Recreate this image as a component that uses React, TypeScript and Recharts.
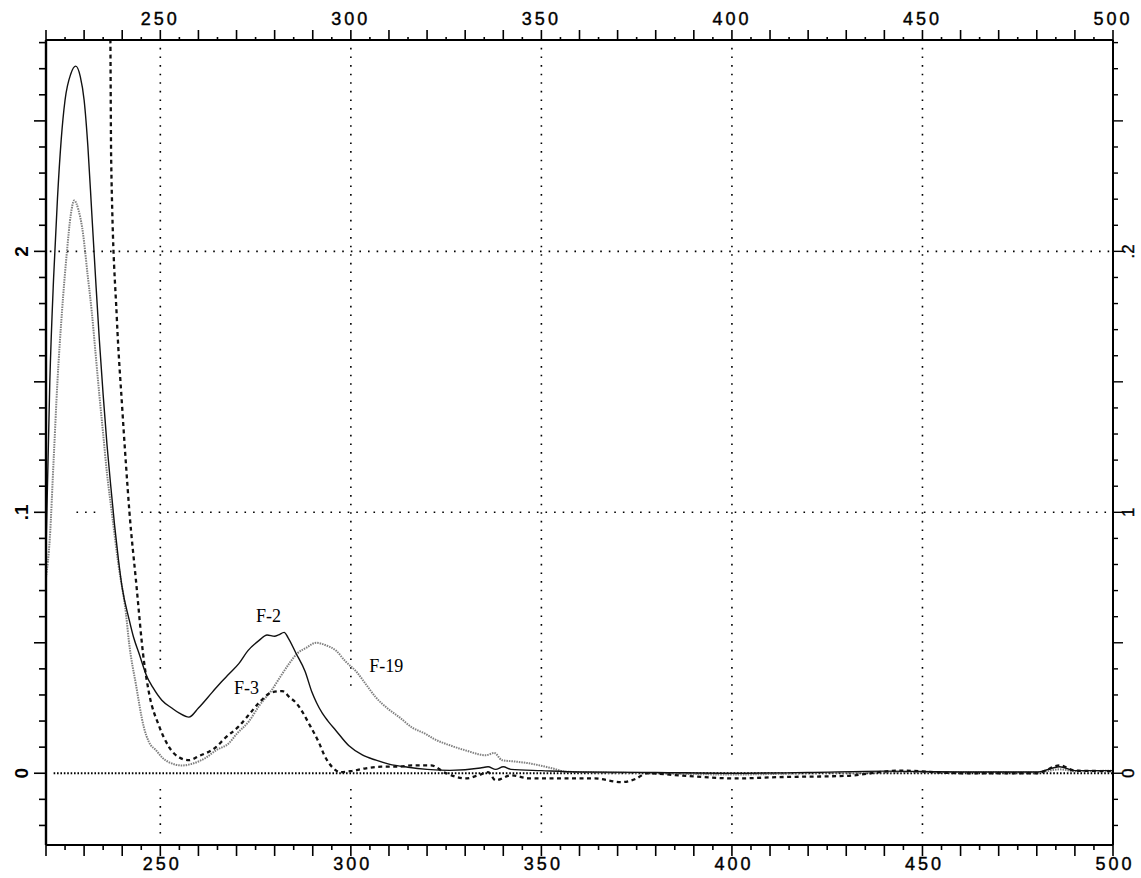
import { LineChart, Line, XAxis, YAxis, ReferenceLine, ReferenceDot } from 'recharts';

// wavelength (nm) / absorbance pairs
const f2Points: [number, number][] = [
  [220, 0.085], [221, 0.15], [222, 0.19], [223, 0.22], [224, 0.243], [225, 0.258],
  [226.5, 0.268], [227.8, 0.271], [229, 0.267], [230, 0.258], [231, 0.24], [232, 0.215],
  [233, 0.19], [234, 0.166], [235, 0.145], [236, 0.126], [237, 0.11], [238, 0.095],
  [239, 0.082], [240, 0.071], [241.8, 0.059], [243, 0.052], [244.4, 0.046], [246.5, 0.037],
  [248, 0.033], [250.4, 0.028], [253, 0.025], [255, 0.023], [257.5, 0.0215], [260, 0.025],
  [263.6, 0.031], [266, 0.035], [268, 0.038], [270.6, 0.042], [273, 0.047], [276, 0.051],
  [278, 0.053], [280, 0.0525], [281, 0.053], [282.5, 0.054], [283.5, 0.052], [285.6, 0.046],
  [288, 0.039], [289.8, 0.031], [291, 0.027], [292.5, 0.023], [294, 0.02], [296, 0.0165],
  [299.5, 0.0105], [303, 0.007], [306.6, 0.005], [310, 0.0035], [315, 0.0023], [320, 0.0015],
  [326, 0.0011], [334, 0.002], [336, 0.0025], [338, 0.0015], [340, 0.0025], [342, 0.0015],
  [350, 0.001], [360, 0.0005], [380, 0.0003], [400, 0], [420, 0.0003], [440, 0.0008],
  [460, 0.0005], [480, 0.0005], [486, 0.0025], [490, 0.001], [500, 0.001],
];

const f3Points: [number, number][] = [
  [236.6, 0.33], [236.9, 0.281], [237.1, 0.235], [238.6, 0.174], [240, 0.14], [241, 0.118],
  [241.9, 0.1], [243.6, 0.074], [245.7, 0.043], [247, 0.031], [249.7, 0.018], [252.3, 0.01],
  [255, 0.006], [257.5, 0.005], [260, 0.0065], [264.6, 0.01], [267, 0.0135], [270.6, 0.018],
  [273, 0.022], [275.9, 0.027], [279.3, 0.031], [282, 0.0315], [284, 0.029], [285.6, 0.027],
  [287.5, 0.023], [289, 0.019], [290.5, 0.015], [291.7, 0.0115], [293, 0.007], [294.3, 0.0038],
  [296, 0.0012], [297, 0.0004], [300, 0.0008], [304, 0.0019], [308, 0.0025], [312.7, 0.0025],
  [316, 0.003], [321, 0.003], [325, 0], [330, -0.002], [334, -0.0005], [336, 0.0004],
  [338, -0.0027], [342, -0.0008], [347, -0.002], [355, -0.002], [364, -0.002], [371, -0.0034],
  [375, -0.002], [377.5, 0], [386, -0.0008], [401, -0.002], [412, -0.0015], [430, -0.001],
  [444, 0.001], [460, 0], [480, 0], [486, 0.003], [490, 0.001], [500, 0.0008],
];

const f19Points: [number, number][] = [
  [220, 0.075], [221, 0.09], [222, 0.12], [223, 0.15], [224.2, 0.177], [225.5, 0.2],
  [226.5, 0.214], [227.4, 0.2195], [228.5, 0.216], [229.5, 0.209], [231, 0.19], [232, 0.177],
  [233, 0.161], [234, 0.145], [235, 0.13], [236, 0.115], [237.3, 0.0996], [239, 0.08],
  [241, 0.061], [241.8, 0.05], [243.6, 0.034], [245.7, 0.0175], [247, 0.012], [248.9, 0.0088],
  [250.5, 0.006], [252.3, 0.0042], [255.7, 0.003], [258, 0.0035], [262, 0.006], [264.6, 0.0088],
  [268, 0.0115], [270, 0.015], [273.3, 0.02], [276, 0.026], [279.3, 0.032], [281.5, 0.037],
  [283.8, 0.042], [286, 0.046], [288.2, 0.048], [290.9, 0.05], [293.5, 0.049], [296.1, 0.047],
  [298.5, 0.043], [301.4, 0.039], [304, 0.034], [306.6, 0.029], [309.5, 0.025], [312.7, 0.0215],
  [316, 0.0176], [319.7, 0.015], [322, 0.013], [325.8, 0.0108], [330, 0.0088], [335.5, 0.0069],
  [337.6, 0.0078], [339.7, 0.005], [343, 0.0045], [346.8, 0.0038], [352.8, 0.0019], [356.5, 0.0006],
  [365, 0.0003], [380, 0], [400, -0.0005], [420, 0], [440, 0.0003], [460, 0.0004],
  [480, 0.0003], [486, 0.0015], [490, 0.0008], [500, 0.001],
];

const xLabelValues = [250, 300, 350, 400, 450, 500];
const xLabelText = ['250', '300', '350', '400', '450', '500'];
const yLabelValues = [0, 0.1, 0.2];
const leftLabelText = ['0', '.1', '2'];
const rightLabelText = ['0', '1', '.2'];

// vertical dotted grid lines stop short of the baseline
const xGridValues = [250, 300, 350, 400, 450];
const xGridUpperEnd = [0.04, 0.031, 0.012, 0.006, 0.006];
const xGridLowerStart = [-0.006, -0.006, -0.009, -0.006, -0.006];

const X_MIN = 220;
const X_MAX = 500;
const Y_MIN = -0.0275;
const Y_MAX = 0.281;

const xTicks = Array.from({ length: 57 }, (_, i) => X_MIN + i * 5);
const yTicks = Array.from({ length: 31 }, (_, i) => Math.round((-0.02 + i * 0.01) * 100) / 100);

const toData = (pts: [number, number][]) => pts.map(([x, y]) => ({ x, y }));
const f2Data = toData(f2Points);
const f3Data = toData(f3Points);
const f19Data = toData(f19Points);

const axisFont = {
  fontFamily: '"Liberation Sans", Arial, sans-serif',
  fontSize: 18,
  letterSpacing: 3,
  stroke: '#000',
  strokeWidth: 0.4,
};
const isMultiple = (v: number, step: number) => Math.abs(v / step - Math.round(v / step)) < 1e-6;

const BottomTick = (props: any) => {
  const { x, y, payload } = props;
  const v = payload.value;
  const idx = xLabelValues.indexOf(v);
  return (
    <g>
      <line x1={x} y1={y} x2={x} y2={y + (isMultiple(v, 10) ? 11 : 5)} stroke="#000" strokeWidth={1.6} />
      {idx >= 0 && (
        <text x={x + 2} y={y + 25} textAnchor="middle" fill="#000" {...axisFont}>
          {xLabelText[idx]}
        </text>
      )}
    </g>
  );
};

const TopTick = (props: any) => {
  const { x, y, payload } = props;
  const v = payload.value;
  const idx = xLabelValues.indexOf(v);
  return (
    <g>
      <line x1={x} y1={y} x2={x} y2={y - (isMultiple(v, 10) ? 10 : 3)} stroke="#000" strokeWidth={1.6} />
      {idx >= 0 && (
        <text x={x} y={y - 15} textAnchor="middle" fill="#000" {...axisFont}>
          {xLabelText[idx]}
        </text>
      )}
    </g>
  );
};

const labelIndex = (v: number) => yLabelValues.findIndex((l) => Math.abs(l - v) < 1e-6);

const LeftTick = (props: any) => {
  const { x, y, payload } = props;
  const v = payload.value;
  const idx = labelIndex(v);
  const len = isMultiple(v, 0.05) ? 12 : 7;
  const lx = x - 24;
  return (
    <g>
      <line x1={x} y1={y} x2={x - len} y2={y} stroke="#000" strokeWidth={1.6} />
      {idx >= 0 && (
        <text
          x={lx}
          y={y}
          transform={`rotate(-90 ${lx} ${y})`}
          textAnchor="middle"
          dominantBaseline="central"
          fill="#000"
          fontWeight="bold"
          fontFamily='"Liberation Sans", Arial, sans-serif'
          fontSize={19}
        >
          {leftLabelText[idx]}
        </text>
      )}
    </g>
  );
};

const RightTick = (props: any) => {
  const { x, y, payload } = props;
  const v = payload.value;
  const idx = labelIndex(v);
  const len = isMultiple(v, 0.05) ? 10 : 5;
  const lx = x + 16;
  return (
    <g>
      <line x1={x} y1={y} x2={x + len} y2={y} stroke="#000" strokeWidth={1.4} />
      {idx >= 0 && (
        <text
          x={lx}
          y={y}
          transform={`rotate(-90 ${lx} ${y})`}
          textAnchor="middle"
          dominantBaseline="central"
          fill="#000"
          stroke="#000"
          strokeWidth={0.4}
          fontFamily='"Liberation Sans", Arial, sans-serif'
          fontSize={17}
        >
          {rightLabelText[idx]}
        </text>
      )}
    </g>
  );
};

const curveLabel = (text: string) => ({
  value: text,
  position: 'center' as const,
  fill: '#000',
  fontFamily: '"Liberation Serif", "Times New Roman", serif',
  fontSize: 18,
});

const dotted = { stroke: '#000', strokeWidth: 1.6, strokeDasharray: '1.6 7' };

export default function App() {
  return (
    <div style={{ position: 'absolute', left: 0, top: 0, background: '#fff' }}>
      <LineChart width={1141} height={878} margin={{ top: 39, right: 27, bottom: 32, left: 45 }}>
        <XAxis
          dataKey="x"
          type="number"
          domain={[X_MIN, X_MAX]}
          allowDataOverflow
          ticks={xTicks}
          interval={0}
          height={1}
          tickSize={0}
          tickMargin={0}
          tick={<BottomTick />}
          axisLine={{ stroke: '#000', strokeWidth: 2.2 }}
        />
        <XAxis
          xAxisId="top"
          orientation="top"
          dataKey="x"
          type="number"
          domain={[X_MIN, X_MAX]}
          allowDataOverflow
          ticks={xTicks}
          interval={0}
          height={1}
          tickSize={0}
          tickMargin={0}
          tick={<TopTick />}
          axisLine={{ stroke: '#000', strokeWidth: 2.2 }}
        />
        <YAxis
          type="number"
          domain={[Y_MIN, Y_MAX]}
          allowDataOverflow
          ticks={yTicks}
          interval={0}
          width={1}
          tickSize={0}
          tickMargin={0}
          tick={<LeftTick />}
          axisLine={{ stroke: '#000', strokeWidth: 2.4 }}
        />
        <YAxis
          yAxisId="right"
          orientation="right"
          type="number"
          domain={[Y_MIN, Y_MAX]}
          allowDataOverflow
          ticks={yTicks}
          interval={0}
          width={1}
          tickSize={0}
          tickMargin={0}
          tick={<RightTick />}
          axisLine={{ stroke: '#000', strokeWidth: 2 }}
        />

        {xGridValues.map((v, i) => (
          <ReferenceLine
            key={`gu${v}`}
            segment={[{ x: v, y: Y_MAX - 0.003 }, { x: v, y: xGridUpperEnd[i] }]}
            {...dotted}
          />
        ))}
        {xGridValues.map((v, i) => (
          <ReferenceLine
            key={`gl${v}`}
            segment={[{ x: v, y: xGridLowerStart[i] }, { x: v, y: Y_MIN + 0.003 }]}
            {...dotted}
          />
        ))}
        <ReferenceLine segment={[{ x: 221, y: 0.2 }, { x: X_MAX, y: 0.2 }]} {...dotted} />
        <ReferenceLine segment={[{ x: 228, y: 0.1 }, { x: 233, y: 0.1 }]} {...dotted} />
        <ReferenceLine segment={[{ x: 245, y: 0.1 }, { x: X_MAX, y: 0.1 }]} {...dotted} />
        <ReferenceLine
          segment={[{ x: 222, y: 0 }, { x: X_MAX, y: 0 }]}
          stroke="#000"
          strokeWidth={2}
          strokeDasharray="1.6 1.8"
        />

        <Line
          data={f19Data}
          dataKey="y"
          type="monotone"
          stroke="#808080"
          strokeWidth={2}
          strokeDasharray="1.5 1"
          dot={false}
          isAnimationActive={false}
        />
        <Line
          data={f3Data}
          dataKey="y"
          type="monotone"
          stroke="#111"
          strokeWidth={2.3}
          strokeDasharray="4 3.5"
          dot={false}
          isAnimationActive={false}
        />
        <Line
          data={f2Data}
          dataKey="y"
          type="monotone"
          stroke="#111"
          strokeWidth={1.4}
          dot={false}
          isAnimationActive={false}
        />

        <ReferenceDot x={278.4} y={0.0605} r={0} fill="none" stroke="none" label={curveLabel('F-2')} />
        <ReferenceDot x={272.6} y={0.033} r={0} fill="none" stroke="none" label={curveLabel('F-3')} />
        <ReferenceDot x={309.3} y={0.0414} r={0} fill="none" stroke="none" label={curveLabel('F-19')} />
      </LineChart>
    </div>
  );
}
